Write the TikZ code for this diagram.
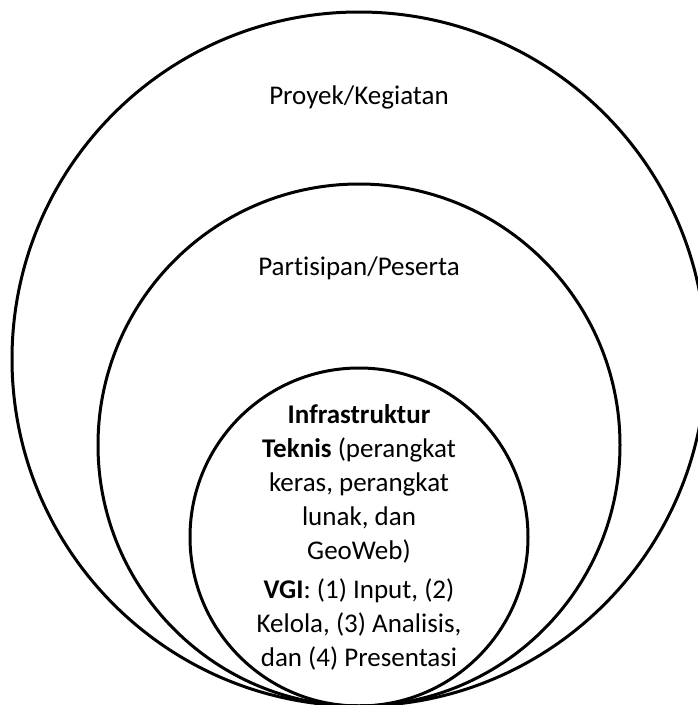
\documentclass[tikz,border=0pt]{standalone}
\usepackage{fontspec}
\setmainfont[Ligatures={NoCommon}]{Carlito}
\begin{document}
\begin{tikzpicture}[x=1pt,y=-1pt,
  ring/.style={circle,draw=black,line width=3pt,inner sep=0pt,outer sep=0pt},
  lbl/.style={font=\fontsize{27}{34}\selectfont,text=black,inner sep=0pt}]
\useasboundingbox (0,0) rectangle (698,705);
% three nested circles, all touching at the bottom
\node[ring,minimum size=694pt] (outer) at (359,359) {};
\node[ring,minimum size=522pt] (middle) at (359,445) {};
\node[ring,minimum size=338pt] (inner) at (359,537) {};
% labels
\node[lbl] (proyek) at (359,97) {Proyek/Kegiatan};
\node[lbl] (peserta) at (359,268) {Partisipan/Peserta};
\node[lbl,align=center,anchor=north] (infra) at (359,404)
  {\textbf{Infrastruktur}\\
   \textbf{Teknis} (perangkat\\
   keras, perangkat\\
   lunak, dan\\
   GeoWeb)\\[5pt]
   \textbf{VGI}: (1) Input, (2)\\
   Kelola, (3) Analisis,\\
   dan (4) Presentasi};
\end{tikzpicture}
\end{document}
